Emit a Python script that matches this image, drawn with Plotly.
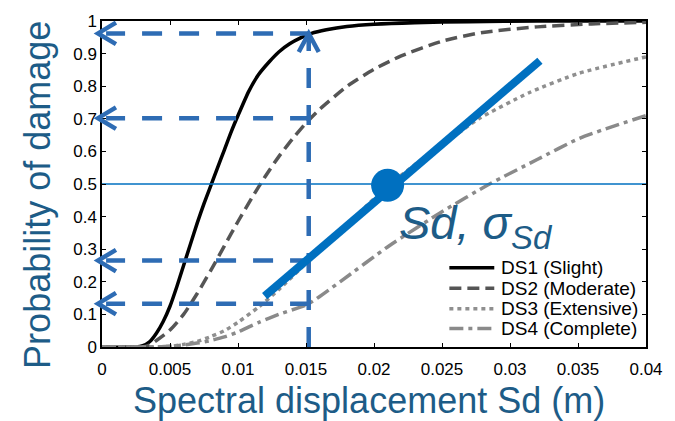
import plotly.graph_objects as go

# ---- fragility curves: probability of reaching each damage state vs Sd (m) ----
ds1_x = [0, 0.0025, 0.003, 0.0035, 0.004, 0.0045, 0.005, 0.0055, 0.006, 0.0065,
         0.007, 0.0075, 0.008, 0.0085, 0.009, 0.0095, 0.01, 0.0108, 0.0115, 0.0123,
         0.013, 0.0138, 0.0146, 0.0154, 0.0165, 0.018, 0.02, 0.023, 0.027, 0.032, 0.04]
ds1_y = [0, 0, 0.004, 0.016, 0.042, 0.078, 0.125, 0.185, 0.25, 0.315,
         0.38, 0.44, 0.495, 0.55, 0.605, 0.66, 0.71, 0.785, 0.835, 0.875,
         0.905, 0.93, 0.948, 0.962, 0.973, 0.983, 0.99, 0.995, 0.998, 1.0, 1.0]

ds2_x = [0, 0.003, 0.0035, 0.004, 0.005, 0.006, 0.007, 0.008, 0.009, 0.01,
         0.011, 0.012, 0.013, 0.014, 0.015, 0.016, 0.018, 0.02, 0.022, 0.025,
         0.028, 0.032, 0.036, 0.04]
ds2_y = [0, 0, 0.006, 0.02, 0.052, 0.1, 0.164, 0.235, 0.31, 0.385,
         0.456, 0.523, 0.584, 0.638, 0.687, 0.729, 0.799, 0.852, 0.893, 0.938,
         0.965, 0.982, 0.991, 0.996]

ds3_x = [0, 0.004, 0.005, 0.006, 0.007, 0.008, 0.009, 0.01, 0.0115, 0.013,
         0.0152, 0.0175, 0.02, 0.0212, 0.0235, 0.026, 0.0277, 0.0314, 0.0351, 0.04]
ds3_y = [0, 0, 0.002, 0.008, 0.017, 0.032, 0.05, 0.076, 0.122, 0.176,
         0.265, 0.355, 0.455, 0.5, 0.575, 0.65, 0.7, 0.78, 0.84, 0.89]

ds4_x = [0, 0.004, 0.005, 0.006, 0.007, 0.008, 0.009, 0.01, 0.0115, 0.013,
         0.0152, 0.0175, 0.0211, 0.025, 0.0285, 0.032, 0.0351, 0.04]
ds4_y = [0, 0, 0.002, 0.006, 0.012, 0.02, 0.031, 0.046, 0.075, 0.1,
         0.133, 0.2, 0.31, 0.415, 0.5, 0.575, 0.64, 0.71]

series_names = ["DS1 (Slight)", "DS2 (Moderate)", "DS3 (Extensive)", "DS4 (Complete)"]
series_colors = ["#000000", "#555555", "#8f8f8f", "#8a8a8a"]
series_dash = ["solid", "12px,6px", "4px,4px", "14px,5px,4px,5px"]

x_ticks = [0, 0.005, 0.01, 0.015, 0.02, 0.025, 0.03, 0.035, 0.04]
x_tick_text = ["0", "0.005", "0.01", "0.015", "0.02", "0.025", "0.03", "0.035", "0.04"]
y_ticks = [0, 0.1, 0.2, 0.3, 0.4, 0.5, 0.6, 0.7, 0.8, 0.9, 1.0]
y_tick_text = ["0", "0.1", "0.2", "0.3", "0.4", "0.5", "0.6", "0.7", "0.8", "0.9", "1"]

# ---- reading aid: probabilities at one spectral displacement ----
sd_probe = 0.0152
probe_levels = [0.962, 0.702, 0.265, 0.133]
median_point = [0.0210, 0.496]
sd_line_x = [0.01196, 0.0322]
sd_line_y = [0.156, 0.878]

X_RANGE = [0, 0.04]
Y_RANGE = [0, 1]
PLOT_W, PLOT_H = 545, 333

FONT = "Liberation Sans, Arial, sans-serif"
TITLE_BLUE = "#1D5C87"
ARROW_BLUE = "#2E6CB4"
LINE_BLUE = "#0070C0"

fig = go.Figure()

for xs, ys, name, col, dash in zip([ds1_x, ds2_x, ds3_x, ds4_x],
                                   [ds1_y, ds2_y, ds3_y, ds4_y],
                                   series_names, series_colors, series_dash):
    fig.add_trace(go.Scatter(x=xs, y=ys, mode="lines", name=name, showlegend=False,
                             line=dict(color=col, width=3.5, dash=dash,
                                       shape="spline", smoothing=0.6)))

# horizontal reference at P = 0.5
fig.add_trace(go.Scatter(x=X_RANGE, y=[0.5, 0.5], mode="lines", showlegend=False,
                         hoverinfo="skip", line=dict(color=LINE_BLUE, width=1.6)))

# dashed guide lines (drawn from the probe outwards so dashes start there)
arrow_dash = "20px,17px"
fig.add_trace(go.Scatter(x=[sd_probe, sd_probe], y=[0, probe_levels[0]], mode="lines",
                         showlegend=False, hoverinfo="skip",
                         line=dict(color=ARROW_BLUE, width=4.5, dash=arrow_dash)))
for lvl in probe_levels:
    fig.add_trace(go.Scatter(x=[sd_probe + 0.0001, 0.0003], y=[lvl, lvl], mode="lines",
                             showlegend=False, hoverinfo="skip",
                             line=dict(color=ARROW_BLUE, width=4.5, dash=arrow_dash)))

# slope line through the median, and the median marker
fig.add_trace(go.Scatter(x=sd_line_x, y=sd_line_y, mode="lines", showlegend=False,
                         hoverinfo="skip", line=dict(color=LINE_BLUE, width=8)))
fig.add_trace(go.Scatter(x=[median_point[0]], y=[median_point[1]], mode="markers",
                         showlegend=False, hoverinfo="skip",
                         marker=dict(color=LINE_BLUE, size=33, line=dict(width=0))))


def px_x(x):
    return (x - X_RANGE[0]) / (X_RANGE[1] - X_RANGE[0])


def px_y(y):
    return (y - Y_RANGE[0]) / (Y_RANGE[1] - Y_RANGE[0])


# open arrowheads (paper coordinates so they are not clipped at the axis)
shapes = []
wing_dx, wing_dy = 18 / PLOT_W, 11 / PLOT_H
tip_x = -4 / PLOT_W
for lvl in probe_levels:
    ty = px_y(lvl)
    shapes.append(dict(type="path", xref="paper", yref="paper",
                       path=f"M {tip_x + wing_dx} {ty + wing_dy} L {tip_x} {ty} L {tip_x + wing_dx} {ty - wing_dy}",
                       line=dict(color=ARROW_BLUE, width=4.5)))
ux, uy = px_x(sd_probe), px_y(probe_levels[0])
up_dx, up_dy = 10 / PLOT_W, 19 / PLOT_H
shapes.append(dict(type="path", xref="paper", yref="paper",
                   path=f"M {ux - up_dx} {uy - up_dy} L {ux} {uy} L {ux + up_dx} {uy - up_dy}",
                   line=dict(color=ARROW_BLUE, width=4.5)))

annotations = [
    dict(text="<i>Sd, σ<sub>Sd</sub></i>", xref="paper", yref="paper",
         x=(398 - 102) / PLOT_W, y=0.37, xanchor="left", yanchor="middle",
         showarrow=False, font=dict(family=FONT, size=47, color=TITLE_BLUE)),
    dict(text="Spectral displacement Sd (m)", xref="paper", yref="paper",
         x=0.49, y=-0.096, xanchor="center", yanchor="top", showarrow=False,
         font=dict(family=FONT, size=36, color=TITLE_BLUE)),
    dict(text="Probability of damage", xref="paper", yref="paper",
         x=-0.1174, y=0.467, xanchor="center", yanchor="middle", textangle=-90,
         showarrow=False, font=dict(family=FONT, size=36, color=TITLE_BLUE)),
]

# legend block in the lower-right corner of the axes
legend_rows_px = [266, 287, 308, 328]
legend_line_px = [450, 495]
legend_text_px = 500
for name, col, dash, row in zip(series_names, series_colors, series_dash, legend_rows_px):
    yp = (347 - row) / PLOT_H
    shapes.append(dict(type="line", xref="paper", yref="paper",
                       x0=(legend_line_px[0] - 102) / PLOT_W, x1=(legend_line_px[1] - 102) / PLOT_W,
                       y0=yp, y1=yp, line=dict(color=col, width=3.5, dash=dash)))
    annotations.append(dict(text=name, xref="paper", yref="paper",
                            x=(legend_text_px - 102) / PLOT_W, y=yp,
                            xanchor="left", yanchor="middle", showarrow=False,
                            font=dict(family=FONT, size=19, color="black")))

axis_common = dict(showline=True, linecolor="black", linewidth=1.5, mirror="ticks",
                   ticks="inside", ticklen=4, tickwidth=1, tickcolor="black",
                   showgrid=False, zeroline=False,
                   tickfont=dict(family=FONT, size=17, color="black"))

fig.update_layout(
    width=675, height=421,
    margin=dict(l=102, r=28, t=14, b=74),
    paper_bgcolor="white", plot_bgcolor="white",
    xaxis=dict(range=X_RANGE, tickvals=x_ticks, ticktext=x_tick_text,
               ticklabelstandoff=6, **axis_common),
    yaxis=dict(range=Y_RANGE, tickvals=y_ticks, ticktext=y_tick_text, **axis_common),
    shapes=shapes,
    annotations=annotations,
    showlegend=False,
)

fig.write_html("out.html")
